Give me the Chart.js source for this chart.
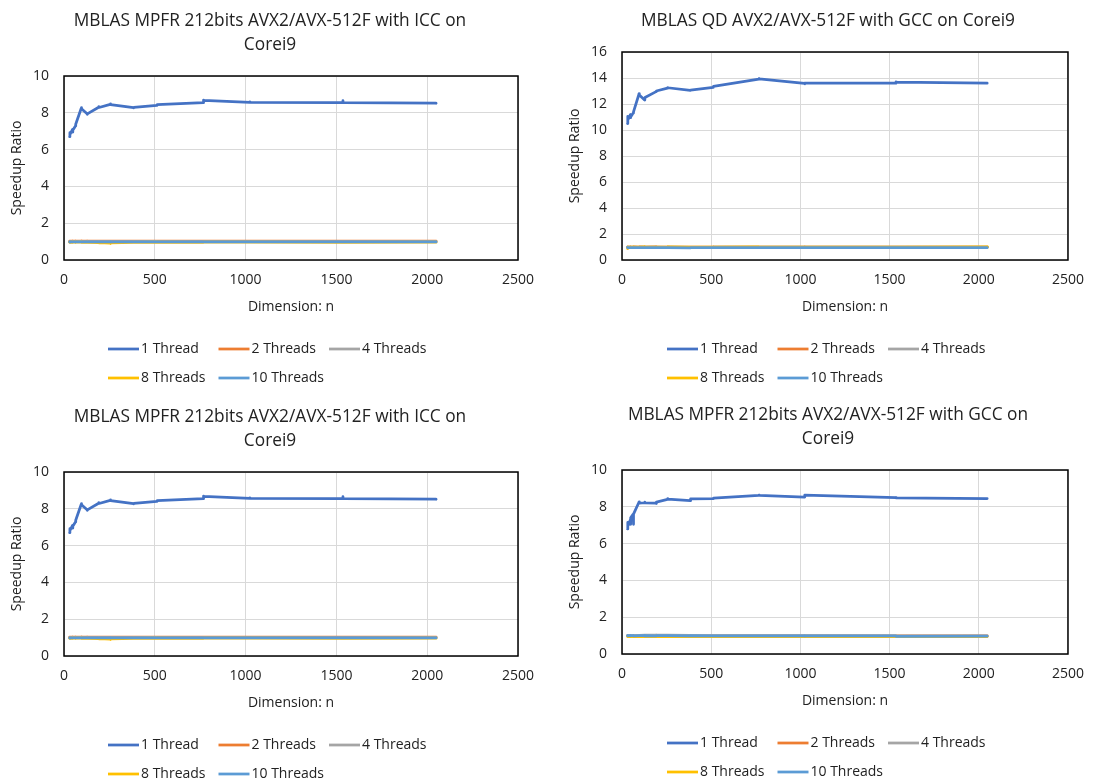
<!DOCTYPE html>
<html lang="en">
<head>
<meta charset="UTF-8" />
<title>MBLAS speedup on Corei9</title>
<script src="https://cdn.jsdelivr.net/npm/chart.js@4.4.1/dist/chart.umd.min.js"></script>
<style>
  html, body { margin: 0; padding: 0; background: #fff; }
  body { width: 1096px; height: 780px; overflow: hidden; position: relative; }
  .panel { position: absolute; width: 548px; height: 390px; }
</style>
</head>
<body>
<div class="panel" style="left:0;top:0"><canvas id="c1" width="548" height="390"></canvas></div>
<div class="panel" style="left:548px;top:0"><canvas id="c2" width="548" height="390"></canvas></div>
<div class="panel" style="left:0;top:396px"><canvas id="c3" width="548" height="390"></canvas></div>
<div class="panel" style="left:548px;top:394px"><canvas id="c4" width="548" height="390"></canvas></div>

<script>
// matrix dimensions n
const dims = [31, 32, 33, 47, 48, 49, 63, 64, 65, 95, 96, 97, 127, 128, 129, 191, 192, 193,
  255, 256, 257, 383, 384, 385, 511, 512, 513, 767, 768, 769, 1023, 1024, 1025,
  1535, 1536, 1537, 2047, 2048, 2049];

const threadLabels = ['1 Thread', '2 Threads', '4 Threads', '8 Threads', '10 Threads'];
const threadColors = ['#4472C4', '#ED7D31', '#A5A5A5', '#FFC000', '#5B9BD5'];

const xTicks = [0, 500, 1000, 1500, 2000, 2500];
const yTicksMpfr = [0, 2, 4, 6, 8, 10];
const yTicksQd = [0, 2, 4, 6, 8, 10, 12, 14, 16];

// MPFR 212bits, ICC
const iccT1 = [6.70, 6.92, 6.82, 7.10, 6.95, 7.05, 7.28, 7.33, 7.38, 8.25, 8.28, 8.22, 7.95, 7.92, 7.94,
  8.30, 8.33, 8.29, 8.46, 8.48, 8.45, 8.28, 8.27, 8.30, 8.40, 8.42, 8.44, 8.55, 8.69, 8.68,
  8.57, 8.60, 8.57, 8.55, 8.66, 8.55, 8.52, 8.53, 8.52];
const iccT2 = [1.02, 1.03, 1.02, 1.03, 1.02, 1.03, 1.03, 1.02, 1.03, 1.03, 1.04, 1.03, 1.03, 1.02, 1.03,
  1.03, 1.03, 1.02, 1.03, 1.03, 1.03, 1.02, 1.03, 1.03, 1.03, 1.03, 1.02, 1.03, 1.03, 1.03,
  1.03, 1.03, 1.03, 1.03, 1.03, 1.03, 1.03, 1.03, 1.03];
const iccT4 = [1.00, 0.99, 1.00, 1.00, 1.01, 1.00, 1.00, 0.99, 1.00, 1.01, 1.00, 1.00, 1.00, 1.01, 1.00,
  1.00, 0.99, 1.00, 1.00, 1.01, 1.00, 1.00, 1.00, 1.00, 1.01, 1.00, 1.00, 1.00, 1.00, 1.00,
  1.00, 1.00, 1.00, 1.00, 1.00, 1.00, 1.00, 1.00, 1.00];
const iccT8 = [0.96, 0.97, 0.96, 0.97, 0.96, 0.97, 0.97, 0.96, 0.97, 0.97, 0.96, 0.97, 0.96, 0.97, 0.96,
  0.95, 0.94, 0.95, 0.92, 0.90, 0.93, 0.96, 0.97, 0.96, 0.97, 0.96, 0.97, 0.96, 0.97, 0.97,
  0.97, 0.97, 0.97, 0.96, 0.97, 0.96, 0.97, 0.97, 0.97];
const iccT10 = [0.98, 0.97, 0.98, 0.98, 0.99, 0.98, 0.98, 0.98, 0.99, 0.98, 0.99, 0.98, 0.98, 0.98, 0.99,
  0.98, 0.98, 0.98, 0.99, 0.98, 0.98, 0.98, 0.99, 0.98, 0.98, 0.99, 0.98, 0.98, 0.98, 0.98,
  0.98, 0.99, 0.98, 0.98, 0.98, 0.98, 0.98, 0.98, 0.98];

// QD, GCC
const qdT1 = [10.50, 11.05, 10.75, 11.18, 10.95, 11.00, 11.30, 11.35, 11.40, 12.75, 12.80, 12.70, 12.30, 12.45, 12.50,
  12.95, 12.97, 13.00, 13.22, 13.26, 13.25, 13.05, 13.05, 13.07, 13.28, 13.30, 13.35, 13.92, 13.95, 13.93,
  13.58, 13.56, 13.60, 13.60, 13.70, 13.68, 13.60, 13.60, 13.60];
const qdT2 = [1.00, 1.01, 1.00, 1.00, 1.01, 1.00, 1.00, 1.00, 1.01, 1.00, 1.00, 1.01, 1.00, 1.00, 1.00,
  1.01, 1.00, 1.00, 1.00, 1.01, 1.00, 1.00, 1.00, 1.00, 1.00, 1.01, 1.00, 1.00, 1.00, 1.00,
  1.00, 1.01, 1.00, 1.00, 1.00, 1.00, 1.00, 1.00, 1.00];
const qdT4 = [0.99, 0.98, 0.99, 0.99, 0.99, 0.98, 0.99, 0.99, 0.99, 0.98, 0.99, 0.99, 0.99, 0.98, 0.99,
  0.99, 0.99, 0.99, 0.98, 0.99, 0.99, 0.97, 0.96, 0.97, 0.98, 0.99, 0.99, 0.99, 0.99, 0.99,
  0.99, 0.99, 0.99, 0.99, 0.99, 0.99, 0.99, 0.99, 0.99];
const qdT8 = [0.88, 0.95, 0.99, 1.00, 0.99, 1.00, 1.00, 1.01, 1.00, 1.00, 1.00, 1.00, 1.01, 1.00, 1.00,
  1.00, 1.00, 1.00, 1.00, 1.00, 1.01, 1.00, 1.00, 1.00, 1.00, 1.00, 1.00, 1.01, 1.00, 1.00,
  1.00, 1.00, 1.00, 1.00, 1.00, 1.00, 1.01, 1.00, 1.00];
const qdT10 = [0.96, 0.95, 0.96, 0.95, 0.96, 0.95, 0.95, 0.96, 0.95, 0.95, 0.95, 0.96, 0.95, 0.95, 0.95,
  0.95, 0.96, 0.95, 0.95, 0.95, 0.95, 0.94, 0.94, 0.95, 0.95, 0.95, 0.95, 0.95, 0.95, 0.95,
  0.95, 0.96, 0.95, 0.95, 0.95, 0.95, 0.95, 0.95, 0.95];

// MPFR 212bits, GCC
const gccT1 = [6.80, 7.15, 6.95, 7.30, 7.05, 7.40, 7.60, 7.05, 7.60, 8.25, 8.27, 8.20, 8.22, 8.25, 8.22,
  8.20, 8.18, 8.25, 8.40, 8.44, 8.42, 8.33, 8.35, 8.43, 8.44, 8.45, 8.47, 8.62, 8.63, 8.62,
  8.53, 8.55, 8.63, 8.50, 8.50, 8.49, 8.45, 8.45, 8.45];
const gccT2 = [0.99, 0.99, 0.98, 0.99, 0.99, 0.99, 0.98, 0.99, 0.99, 0.99, 0.99, 0.99, 0.99, 0.98, 0.99,
  0.99, 0.99, 0.99, 0.99, 0.99, 0.99, 0.99, 0.98, 0.99, 0.99, 0.99, 0.99, 0.99, 0.99, 0.99,
  0.99, 0.99, 0.99, 0.98, 0.98, 0.98, 0.98, 0.98, 0.98];
const gccT4 = [1.00, 1.00, 1.00, 1.00, 1.00, 1.00, 1.00, 1.00, 1.00, 1.00, 1.00, 1.01, 1.02, 1.02, 1.02,
  1.03, 1.02, 1.02, 1.02, 1.02, 1.02, 1.01, 1.00, 1.00, 1.00, 1.00, 1.00, 1.00, 1.00, 1.00,
  1.00, 1.00, 1.00, 0.99, 0.98, 0.98, 0.98, 0.98, 0.98];
const gccT8 = [0.95, 0.95, 0.95, 0.95, 0.96, 0.95, 0.95, 0.95, 0.95, 0.95, 0.95, 0.95, 0.95, 0.95, 0.95,
  0.95, 0.95, 0.95, 0.95, 0.95, 0.95, 0.95, 0.95, 0.95, 0.95, 0.95, 0.95, 0.95, 0.95, 0.95,
  0.95, 0.95, 0.95, 0.95, 0.95, 0.95, 0.95, 0.95, 0.95];
const gccT10 = [1.00, 0.99, 1.00, 1.00, 0.99, 1.00, 1.00, 1.00, 0.99, 1.00, 1.00, 1.00, 1.00, 0.99, 1.00,
  0.99, 1.00, 1.00, 1.00, 1.00, 1.00, 0.99, 0.99, 1.00, 0.99, 0.99, 0.99, 0.99, 0.99, 0.99,
  0.99, 0.98, 0.98, 0.98, 0.96, 0.96, 0.97, 0.97, 0.97];

Chart.defaults.font.family = '"Open Sans", sans-serif';
Chart.defaults.color = '#222';

// Excel-ish extras: plot frame, title and grid legend
const excelBits = {
  id: 'excelBits',
  afterDraw(chart, args, opts) {
    const ctx = chart.ctx, a = chart.chartArea;
    ctx.save();
    ctx.strokeStyle = '#000';
    ctx.lineWidth = 1.5;
    ctx.strokeRect(a.left, a.top, a.right - a.left, a.bottom - a.top);

    ctx.fillStyle = '#222';
    ctx.font = '17.3px "Open Sans"';
    ctx.textAlign = 'center';
    ctx.textBaseline = 'middle';
    opts.title.forEach((t, i) => ctx.fillText(t, opts.titleX, opts.titleY + i * 24));

    ctx.font = '14px "Open Sans"';
    ctx.textAlign = 'left';
    chart.data.datasets.forEach((ds, i) => {
      const x = opts.legendX + (i % 3) * 110.5;
      const y = opts.legendY + Math.floor(i / 3) * 29;
      ctx.strokeStyle = ds.borderColor;
      ctx.lineWidth = 2.75;
      ctx.beginPath();
      ctx.moveTo(x, y);
      ctx.lineTo(x + 31, y);
      ctx.stroke();
      ctx.fillText(ds.label, x + 33, y);
    });
    ctx.restore();
  }
};

function makeChart(id, series, yTicks, c) {
  const datasets = series.map((vals, i) => ({
    label: threadLabels[i],
    data: dims.map((x, j) => ({ x: x, y: vals[j] })),
    borderColor: threadColors[i],
    backgroundColor: threadColors[i],
    borderWidth: 2.75,
    borderJoinStyle: 'round',
    borderCapStyle: 'round',
    pointRadius: 0,
    tension: 0,
    order: series.length - i   // later series on top, like Excel
  }));

  return new Chart(document.getElementById(id), {
    type: 'line',
    data: { datasets: datasets },
    options: {
      responsive: false,
      animation: false,
      layout: { padding: { top: c.padTop, right: c.padRight, bottom: 70, left: 0 } },
      plugins: {
        legend: { display: false },
        title: { display: false },
        tooltip: { enabled: false },
        excelBits: { title: c.title, titleX: c.titleX, titleY: 21, legendX: c.legendX, legendY: 349 }
      },
      scales: {
        x: {
          type: 'linear',
          min: xTicks[0],
          max: xTicks[xTicks.length - 1],
          afterBuildTicks: s => { s.ticks = xTicks.map(v => ({ value: v })); },
          afterFit: s => { s.height = 60; },
          grid: { color: '#d9d9d9', drawTicks: false },
          border: { display: false },
          ticks: { font: { size: 14 }, padding: 12, maxRotation: 0, autoSkip: false, callback: v => String(v) },
          title: { display: true, text: 'Dimension: n', font: { size: 14 }, padding: { top: 0, bottom: 5 } }
        },
        y: {
          min: yTicks[0],
          max: yTicks[yTicks.length - 1],
          afterBuildTicks: s => { s.ticks = yTicks.map(v => ({ value: v })); },
          afterFit: s => { s.width = c.axisW; },
          grid: { color: '#d9d9d9', drawTicks: false },
          border: { display: false },
          ticks: { font: { size: 14 }, padding: 15, callback: v => String(v) },
          title: { display: true, text: 'Speedup Ratio', font: { size: 14 }, padding: { top: c.yTitlePad, bottom: 0 } }
        }
      }
    },
    plugins: [excelBits]
  });
}

const iccTitle = ['MBLAS MPFR 212bits AVX2/AVX-512F with ICC on', 'Corei9'];
const qdTitle = ['MBLAS QD AVX2/AVX-512F with GCC on Corei9'];
const gccTitle = ['MBLAS MPFR 212bits AVX2/AVX-512F with GCC on', 'Corei9'];

const leftCfg = { padTop: 76, padRight: 30, axisW: 64, yTitlePad: 9, titleX: 270, legendX: 108 };
const rightCfg = { padTop: 76, padRight: 20, axisW: 74, yTitlePad: 19, titleX: 280, legendX: 119 };

makeChart('c1', [iccT1, iccT2, iccT4, iccT8, iccT10], yTicksMpfr, Object.assign({}, leftCfg, { title: iccTitle }));
makeChart('c2', [qdT1, qdT2, qdT4, qdT8, qdT10], yTicksQd, Object.assign({}, rightCfg, { padTop: 52, title: qdTitle }));
makeChart('c3', [iccT1, iccT2, iccT4, iccT8, iccT10], yTicksMpfr, Object.assign({}, leftCfg, { title: iccTitle }));
makeChart('c4', [gccT1, gccT2, gccT4, gccT8, gccT10], yTicksMpfr, Object.assign({}, rightCfg, { padRight: 19, title: gccTitle }));
</script>
</body>
</html>
